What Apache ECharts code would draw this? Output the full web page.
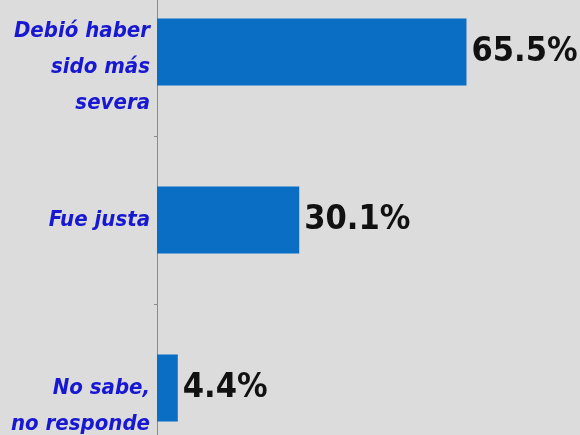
<!DOCTYPE html>
<html>
<head>
<meta charset="utf-8">
<script src="https://cdn.jsdelivr.net/npm/echarts@6/dist/echarts.min.js"></script>
<style>
  html, body { margin: 0; padding: 0; background: #dcdcdc; }
  #chart { width: 580px; height: 435px; }
</style>
</head>
<body>
<div id="chart"></div>
<script>
var categories = ['Debió haber\nsido más\nsevera', 'Fue justa', 'No sabe,\nno responde'];
var values = [65.5, 30.1, 4.4];
var labelShift = [30, 0, 36]; // spacer above each label, the original sits a bit low

var chart = echarts.init(document.getElementById('chart'));
var narrow = '"DejaVu Sans Condensed", "Liberation Sans Narrow", sans-serif';

var rich = {
  a: { color: '#1818d2', fontFamily: narrow, fontSize: 22, fontWeight: 'bold',
       fontStyle: 'italic', lineHeight: 36, align: 'right' }
};
labelShift.forEach(function(h, i) {
  if (h) rich['s' + i] = { fontSize: 4, lineHeight: h, height: h };
});

chart.setOption({
  backgroundColor: '#dcdcdc',
  animation: false,
  grid: { left: 157, right: 45, top: -32, bottom: -37, outerBoundsMode: 'none', containLabel: false },
  xAxis: {
    type: 'value', min: 0, max: 80, show: false
  },
  yAxis: {
    type: 'category',
    inverse: true,
    data: categories,
    axisLine: { show: true, lineStyle: { color: '#8c8c8c', width: 1 } },
    axisTick: { show: true, length: 3, lineStyle: { color: '#8c8c8c' } },
    axisLabel: {
      margin: 7, align: 'right',
      formatter: function(v, i) {
        var s = v.split('\n').map(function(l) { return '{a|' + l + '}'; }).join('\n');
        return labelShift[i] ? '{s' + i + '| }\n' + s : s;
      },
      rich: rich
    },
    splitLine: { show: false }
  },
  series: [{
    type: 'bar',
    data: values,
    barWidth: '40%',
    itemStyle: { color: '#0a6fc4' },
    label: {
      show: true, position: 'right', distance: 5,
      formatter: function(p) { return p.value.toFixed(1) + '%'; },
      color: '#111', fontFamily: narrow, fontSize: 34, fontWeight: 'bold'
    }
  }]
});
</script>
</body>
</html>
